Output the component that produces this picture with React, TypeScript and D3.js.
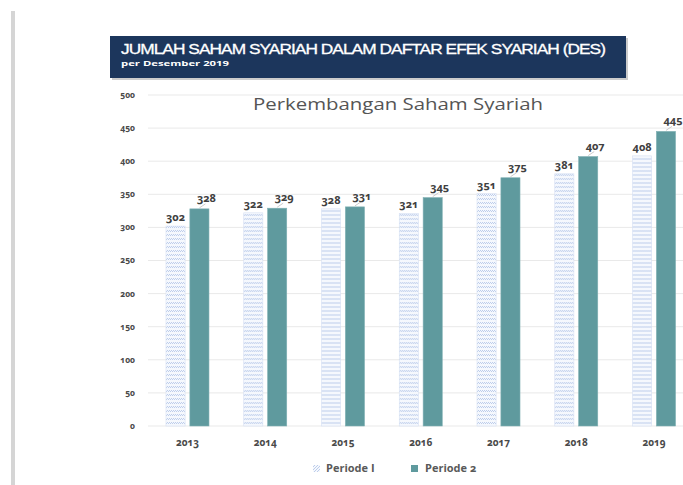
import React from "react";
import * as d3 from "d3";

const years = ["2013", "2014", "2015", "2016", "2017", "2018", "2019"];
const periode1 = [302, 322, 328, 321, 351, 381, 408];
const periode2 = [328, 329, 331, 345, 375, 407, 445];
const seriesNames = ["Periode I", "Periode 2"];
const yTicks = [0, 50, 100, 150, 200, 250, 300, 350, 400, 450, 500];
const headerTitle = "JUMLAH SAHAM SYARIAH DALAM DAFTAR EFEK SYARIAH (DES)";
const headerSub = "per Desember 2019";
const chartTitle = "Perkembangan Saham Syariah";

const W = 683;
const H = 485;
const TEAL = "#5f9a9e";
const LABEL_FONT = "'Open Sans', Lato, sans-serif";

export default function App() {
  const x = d3
    .scaleBand<string>()
    .domain(years)
    .range([148.6, 692.9])
    .paddingInner(0.447)
    .paddingOuter(0.2235);
  const xi = d3
    .scaleBand<string>()
    .domain(seriesNames)
    .range([0, x.bandwidth()])
    .paddingInner(0.2);
  const y = d3.scaleLinear().domain([0, 500]).range([426, 95]);

  const series = [periode1, periode2];
  const onum = { fontVariantNumeric: "oldstyle-nums" } as React.CSSProperties;

  return (
    <svg
      width={W}
      height={H}
      viewBox={`0 0 ${W} ${H}`}
      style={{ position: "absolute", left: 0, top: 0, background: "#fff" }}
    >
      <defs>
        <pattern id="p1" width="4" height="4" patternUnits="userSpaceOnUse">
          <rect width="4" height="4" fill="#f5f8fd" />
          <path d="M0,4 L2,2 M2,4 L4,2" stroke="#afc2e6" strokeWidth="0.8" />
        </pattern>
        <pattern id="p1leg" width="3" height="3" patternUnits="userSpaceOnUse">
          <rect width="3" height="3" fill="#f5f8fd" />
          <path d="M0,3 L3,0" stroke="#afc2e6" strokeWidth="0.8" />
        </pattern>
      </defs>

      {/* left gray rule */}
      <rect x={11} y={11} width={4} height={H - 11} fill="#d5d5d5" />

      {/* header box */}
      <rect x={112} y={38} width={516} height={42} fill="#9a9a9a" opacity={0.5} />
      <rect x={110} y={36} width={516} height={42} fill="#1c365c" />
      <text
        x={121}
        y={54}
        fill="#ffffff"
        fontFamily="'Liberation Sans Narrow', 'Liberation Sans', Arial, sans-serif"
        fontSize={14.5}
        fontWeight={400}
        letterSpacing={-0.8}
        textLength={484}
        lengthAdjust="spacingAndGlyphs"
        stroke="#ffffff"
        strokeWidth={0.3}
      >
        {headerTitle}
      </text>
      <text
        x={121}
        y={66}
        fill="#ffffff"
        fontFamily={LABEL_FONT}
        fontSize={7.5}
        fontWeight={700}
        textLength={108}
        lengthAdjust="spacingAndGlyphs"
      >
        {headerSub}
      </text>

      {/* gridlines */}
      {yTicks.map((t) => (
        <line
          key={"g" + t}
          x1={148}
          x2={W}
          y1={y(t)}
          y2={y(t)}
          stroke="#e9e9e9"
          strokeWidth={1}
        />
      ))}
      {/* y tick labels */}
      {yTicks.map((t) => (
        <text
          key={"t" + t}
          x={135}
          y={y(t)}
          dy="0.35em"
          textAnchor="end"
          fontFamily={LABEL_FONT}
          fontSize={8.5}
          fontWeight={700}
          fill="#4a4a4a"
          style={onum}
        >
          {t}
        </text>
      ))}

      {/* chart title */}
      <text
        x={398}
        y={110}
        textAnchor="middle"
        fontFamily="'Open Sans', sans-serif"
        fontSize={17}
        fontWeight={500}
        fill="#555555"
        textLength={290}
        lengthAdjust="spacingAndGlyphs"
      >
        {chartTitle}
      </text>

      {/* bars */}
      {years.map((yr, i) => (
        <g key={yr} transform={`translate(${x(yr)},0)`}>
          {series.map((vals, s) => {
            const bx = xi(seriesNames[s])!;
            const bw = xi.bandwidth();
            const top = y(vals[i]);
            return (
              <g key={s}>
                <rect
                  x={bx}
                  y={top}
                  width={bw}
                  height={y(0) - top}
                  fill={s === 0 ? "url(#p1)" : TEAL}
                  stroke={s === 0 ? "#d6e0f3" : "#7fb0b3"}
                  strokeWidth={0.6}
                />
                {s === 0 ? (
                  <text
                    x={bx + bw / 2}
                    y={top - 5}
                    textAnchor="middle"
                    fontFamily={LABEL_FONT}
                    fontSize={11}
                    fontWeight={700}
                    fill="#404040"
                    style={onum}
                  >
                    {vals[i]}
                  </text>
                ) : (
                  <g>
                    <line
                      x1={bx + bw / 2}
                      y1={top - 1}
                      x2={bx + bw / 2 + 6}
                      y2={top - 5}
                      stroke="#bfbfbf"
                      strokeWidth={0.8}
                    />
                    <text
                      x={bx + bw / 2 + 7}
                      y={top - 7}
                      textAnchor="middle"
                      fontFamily={LABEL_FONT}
                      fontSize={11}
                      fontWeight={700}
                      fill="#404040"
                      style={onum}
                    >
                      {vals[i]}
                    </text>
                  </g>
                )}
              </g>
            );
          })}
          <text
            x={x.bandwidth() / 2}
            y={446}
            textAnchor="middle"
            fontFamily={LABEL_FONT}
            fontSize={10}
            fontWeight={700}
            fill="#4a4a4a"
            style={onum}
          >
            {yr}
          </text>
        </g>
      ))}

      {/* legend */}
      <rect x={313} y={465} width={7} height={7} fill="url(#p1leg)" />
      <text
        x={326}
        y={472}
        fontFamily={LABEL_FONT}
        fontSize={11}
        fontWeight={700}
        fill="#595959"
      >
        {seriesNames[0]}
      </text>
      <rect x={411} y={465} width={7} height={7} fill={TEAL} />
      <text
        x={425}
        y={472}
        fontFamily={LABEL_FONT}
        fontSize={11}
        fontWeight={700}
        fill="#595959"
        style={onum}
      >
        {seriesNames[1]}
      </text>
    </svg>
  );
}
